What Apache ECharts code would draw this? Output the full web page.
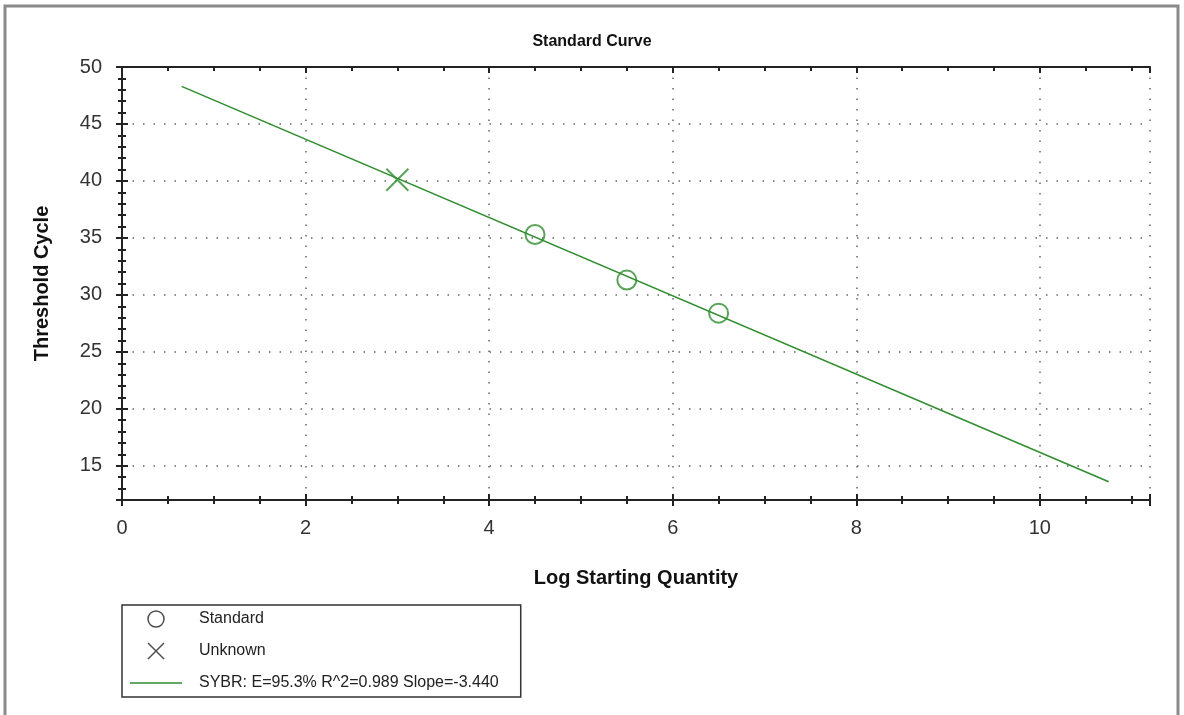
<!DOCTYPE html>
<html>
<head>
<meta charset="utf-8">
<script src="https://cdn.jsdelivr.net/npm/echarts@6/dist/echarts.min.js"></script>
<style>
  html, body { margin: 0; padding: 0; background: #fff; }
  #main { width: 1184px; height: 715px; }
</style>
</head>
<body>
<div id="main"></div>
<script>
    // values
    var stdLogQty = [4.5, 5.5, 6.5];
    var stdCt = [35.3, 31.3, 28.4];
    var unkLogQty = [3.0];
    var unkCt = [40.1];
    var fitLogQty = [0.65, 10.75];
    var fitCt = [48.3, 13.6];
    var fitLabel = 'SYBR: E=95.3% R^2=0.989 Slope=-3.440';

    function pairs(xs, ys) {
        return xs.map(function (x, i) { return [x, ys[i]]; });
    }

    var green = '#2f8d2f';
    var xMark = 'path://M0,0L16,16M16,0L0,16';
    var lineIcon = 'path://M0,0L52,0L52,1.6L0,1.6Z';
    var fnt = 'Liberation Sans, Arial, sans-serif';

    var dotted = { show: true, lineStyle: { color: '#666', width: 1.5, type: [1.5, 9] } };

    function xLabel(v) { return v % 2 === 0 ? String(v) : ''; }
    function yLabel(v) { return v % 5 === 0 ? String(v) : ''; }

    var myChart = echarts.init(document.getElementById('main'));

    var option = {
        backgroundColor: '#fff',
        animation: false,
        title: {
            text: 'Standard Curve',
            left: 'center',
            top: 29,
            textStyle: { fontFamily: fnt, fontSize: 16, fontWeight: 'bold', color: '#111' }
        },
        grid: { left: 122, right: 34, top: 67, bottom: 215 },
        legend: {
            orient: 'vertical',
            left: 122,
            top: 605,
            padding: [4, 22, 4, 8],
            borderColor: '#333',
            borderWidth: 1.5,
            itemWidth: 52,
            itemHeight: 16,
            itemGap: 12,
            textStyle: { fontFamily: fnt, fontSize: 16, color: '#222', lineHeight: 20, padding: [0, 0, 0, 12] },
            data: [
                { name: 'Standard', icon: 'circle', itemStyle: { color: 'transparent', borderColor: '#222', borderWidth: 1.5 } },
                { name: 'Unknown', icon: xMark, itemStyle: { color: 'transparent', borderColor: '#222', borderWidth: 1.5 } },
                { name: fitLabel, icon: lineIcon, itemStyle: { color: green, borderWidth: 0 } }
            ]
        },
        xAxis: [
            {
                type: 'value', position: 'bottom', min: 0, max: 11.2, interval: 2,
                name: 'Log Starting Quantity', nameLocation: 'middle', nameGap: 68,
                nameTextStyle: { fontFamily: fnt, fontSize: 20, fontWeight: 'bold', color: '#111' },
                axisLine: { lineStyle: { color: '#222', width: 2 } },
                axisTick: { inside: true, length: 6, lineStyle: { color: '#222', width: 2 } },
                minorTick: { show: true, splitNumber: 4, length: 4, lineStyle: { color: '#222', width: 2 } },
                axisLabel: { fontFamily: fnt, fontSize: 20, color: '#333', margin: 18, formatter: xLabel },
                splitLine: dotted
            },
            {
                type: 'value', position: 'bottom', min: 0, max: 11.2, interval: 2,
                axisLine: { show: false },
                axisTick: { inside: false, length: 6, lineStyle: { color: '#222', width: 2 } },
                minorTick: { show: true, splitNumber: 4, length: 4, lineStyle: { color: '#222', width: 2 } },
                axisLabel: { show: false },
                splitLine: { show: false }
            },
            {
                type: 'value', position: 'top', min: 0, max: 11.2, interval: 2,
                axisLine: { show: true, lineStyle: { color: '#222', width: 2 } },
                axisTick: { inside: true, length: 6, lineStyle: { color: '#222', width: 2 } },
                minorTick: { show: true, splitNumber: 4, length: 4, lineStyle: { color: '#222', width: 2 } },
                axisLabel: { show: false },
                splitLine: { show: false }
            }
        ],
        yAxis: [
            {
                type: 'value', position: 'left', min: 12, max: 50, splitNumber: 8,
                name: 'Threshold Cycle', nameLocation: 'middle', nameGap: 70,
                nameTextStyle: { fontFamily: fnt, fontSize: 20, fontWeight: 'bold', color: '#111' },
                axisLine: { show: true, lineStyle: { color: '#222', width: 2 } },
                axisTick: { inside: true, length: 6, lineStyle: { color: '#222', width: 2 } },
                minorTick: { show: true, splitNumber: 5, length: 4, lineStyle: { color: '#222', width: 2 } },
                axisLabel: { fontFamily: fnt, fontSize: 20, color: '#333', margin: 20, formatter: yLabel },
                splitLine: dotted
            },
            {
                type: 'value', position: 'left', min: 12, max: 50, splitNumber: 8,
                axisLine: { show: false },
                axisTick: { inside: false, length: 6, lineStyle: { color: '#222', width: 2 } },
                minorTick: { show: true, splitNumber: 5, length: 4, lineStyle: { color: '#222', width: 2 } },
                axisLabel: { show: false },
                splitLine: { show: false }
            },
            {
                type: 'value', position: 'right', min: 12, max: 50, splitNumber: 8,
                axisLine: { show: true, lineStyle: { color: '#222', width: 2 } },
                axisTick: { inside: true, length: 6, lineStyle: { color: '#222', width: 2 } },
                minorTick: { show: true, splitNumber: 5, length: 4, lineStyle: { color: '#222', width: 2 } },
                axisLabel: { show: false },
                splitLine: { show: false }
            }
        ],
        series: [
            {
                name: fitLabel,
                type: 'line',
                data: pairs(fitLogQty, fitCt),
                showSymbol: false,
                symbol: 'none',
                lineStyle: { color: green, width: 1.6 },
                itemStyle: { color: green },
                z: 2
            },
            {
                name: 'Standard',
                type: 'scatter',
                data: pairs(stdLogQty, stdCt),
                symbol: 'circle',
                symbolSize: 19,
                itemStyle: { color: 'transparent', borderColor: green, borderWidth: 2 },
                z: 3
            },
            {
                name: 'Unknown',
                type: 'scatter',
                data: pairs(unkLogQty, unkCt),
                symbol: xMark,
                symbolSize: 22,
                itemStyle: { color: 'transparent', borderColor: green, borderWidth: 2 },
                z: 3
            }
        ],
        graphic: [
            {
                type: 'rect',
                shape: { x: 5, y: 6, width: 1173, height: 720 },
                style: { fill: 'none', stroke: '#8a8a8a', lineWidth: 3 },
                silent: true
            }
        ]
    };

    myChart.setOption(option);
</script>
</body>
</html>
